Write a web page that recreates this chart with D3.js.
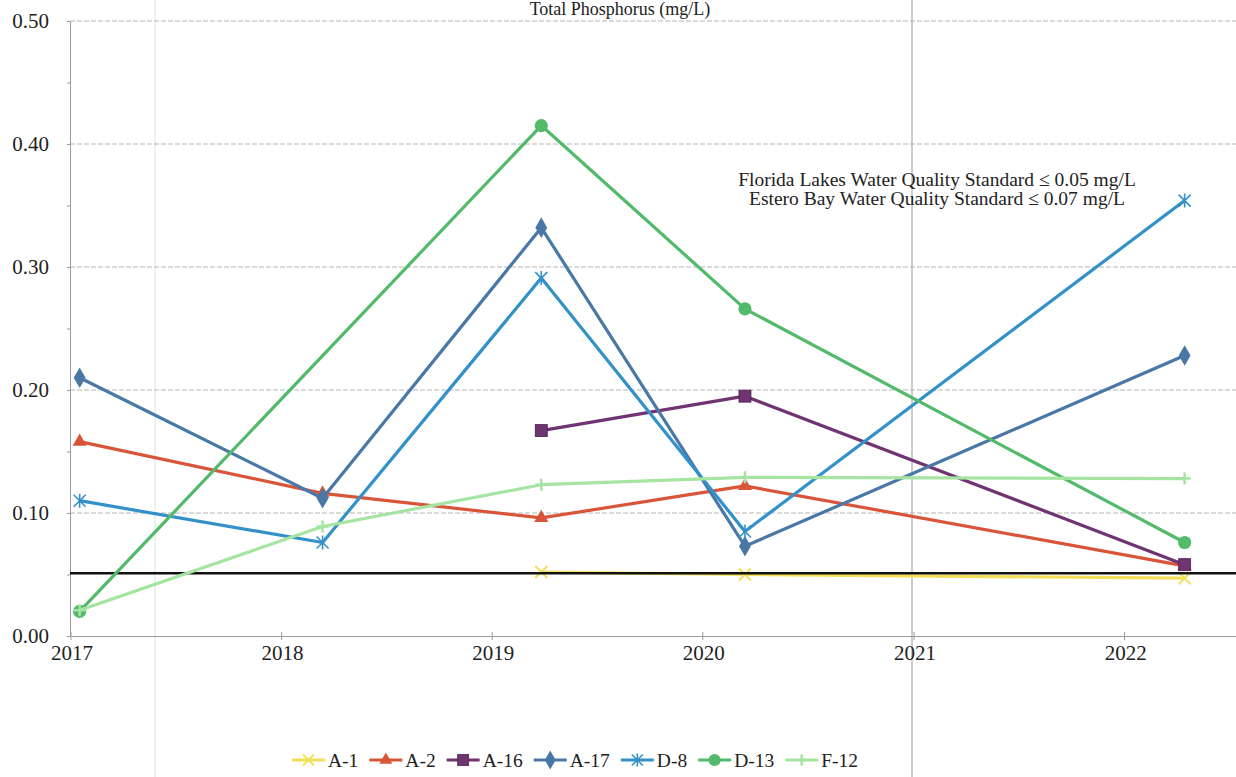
<!DOCTYPE html>
<html>
<head>
<meta charset="utf-8">
<script src="https://cdn.jsdelivr.net/npm/d3@7"></script>
<style>
  html, body { margin: 0; padding: 0; background: #fff; }
  svg { display: block; }
  text { font-family: "Liberation Serif", "Times New Roman", serif; fill: #222; }
</style>
</head>
<body>
<svg id="chart" width="1236" height="777"></svg>
<script>
// ---- data ----
const sampleDates = ["2017-01-16", "2018-03-13", "2019-03-27", "2020-03-14", "2022-04-15"];
const seriesNames = ["A-1", "A-2", "A-16", "A-17", "D-8", "D-13", "F-12"];
const a1Values  = [null, null, 0.052, 0.050, 0.047];
const a2Values  = [0.158, 0.116, 0.096, 0.122, 0.057];
const a16Values = [null, null, 0.167, 0.195, 0.058];
const a17Values = [0.210, 0.112, 0.332, 0.073, 0.228];
const d8Values  = [0.110, 0.076, 0.291, 0.085, 0.354];
const d13Values = [0.020, null, 0.415, 0.266, 0.076];
const f12Values = [0.021, 0.089, 0.123, 0.129, 0.128];
const yTicks = [0.00, 0.10, 0.20, 0.30, 0.40, 0.50];
const xTickYears = [2017, 2018, 2019, 2020, 2021, 2022];
const standardValue = 0.051;
const titleText = "Total Phosphorus (mg/L)";
const noteLines = ["Florida Lakes Water Quality Standard \u2264 0.05 mg/L",
                   "Estero Bay Water Quality Standard \u2264 0.07 mg/L"];

// ---- styles ----
const colors  = ["#f2e05a", "#d9553a", "#6f3472", "#4a78a6", "#3391c9", "#52ba6a", "#a6e4a2"];
const markers = ["x", "triangle", "square", "diamond", "asterisk", "circle", "plus"];
const allValues = [a1Values, a2Values, a16Values, a17Values, d8Values, d13Values, f12Values];

const svg = d3.select("#chart");
const parse = d3.timeParse("%Y-%m-%d");

const x = d3.scaleTime()
  .domain([new Date(2017, 0, 1), new Date(2022, 6, 13)])
  .range([71, 1236]);
const y = d3.scaleLinear().domain([0, 0.5]).range([636, 21]);

// scan artifact vertical lines
svg.append("line").attr("x1", 155).attr("x2", 155).attr("y1", 0).attr("y2", 777)
  .attr("stroke", "#dff0ee").attr("stroke-width", 1.5);
svg.append("line").attr("x1", 912).attr("x2", 912).attr("y1", 0).attr("y2", 777)
  .attr("stroke", "#9a9a9a").attr("stroke-width", 1);

// title
svg.append("text").attr("x", 620).attr("y", 15).attr("text-anchor", "middle")
  .style("font-size", "18px").text(titleText);

// gridlines
svg.append("g").selectAll("line").data(yTicks.filter(d => d > 0)).join("line")
  .attr("x1", 70).attr("x2", 1236)
  .attr("y1", d => y(d)).attr("y2", d => y(d))
  .attr("stroke", "#b5b5b5").attr("stroke-width", 1).attr("stroke-dasharray", "5,2");

// y axis
const yAxis = d3.axisLeft(y).tickValues(d3.range(0, 0.501, 0.05)).tickSize(3).tickFormat(() => "");
const yg = svg.append("g").attr("transform", "translate(70,0)").call(yAxis);
yg.select(".domain").attr("stroke", "#9a9a9a");
yg.selectAll(".tick line").attr("stroke", "#9a9a9a");
svg.append("g").selectAll("text").data(yTicks).join("text")
  .attr("x", 49).attr("y", d => y(d)).attr("dy", "0.35em").attr("text-anchor", "end")
  .style("font-size", "21px").text(d => d3.format(".2f")(d));

// x axis
const xAxis = d3.axisBottom(x).tickValues(xTickYears.map(yr => new Date(yr, 0, 1)))
  .tickSize(0).tickFormat(() => "");
const xg = svg.append("g").attr("transform", "translate(0,636)").call(xAxis);
xg.select(".domain").attr("stroke", "#9a9a9a");
svg.append("g").selectAll("line").data(xTickYears).join("line")
  .attr("x1", d => x(new Date(d, 0, 1))).attr("x2", d => x(new Date(d, 0, 1)))
  .attr("y1", 632).attr("y2", 640).attr("stroke", "#9a9a9a");
svg.append("g").selectAll("text").data(xTickYears).join("text")
  .attr("x", d => x(new Date(d, 0, 1)) + 1).attr("y", 660).attr("text-anchor", "middle")
  .style("font-size", "21px").text(d => d);

// marker drawing
function drawMarker(g, type, color, size) {
  const s = size;
  if (type === "circle") {
    g.append("circle").attr("r", s * 0.55).attr("fill", color);
  } else if (type === "square") {
    g.append("rect").attr("x", -s / 2).attr("y", -s / 2).attr("width", s).attr("height", s)
      .attr("fill", color).attr("stroke", "#4a2050").attr("stroke-width", 0.8);
  } else if (type === "diamond") {
    g.append("path").attr("d", d3.symbol(d3.symbolDiamond, s * s * 0.85)()).attr("fill", color);
  } else if (type === "triangle") {
    g.append("path").attr("d", d3.symbol(d3.symbolTriangle, s * s * 0.6)()).attr("fill", color);
  } else if (type === "x") {
    const h = s * 0.5;
    g.append("path").attr("d", `M${-h},${-h}L${h},${h}M${-h},${h}L${h},${-h}`)
      .attr("stroke", color).attr("stroke-width", 2);
  } else if (type === "asterisk") {
    const h = s * 0.5;
    g.append("path").attr("d", `M${-h},${-h}L${h},${h}M${-h},${h}L${h},${-h}M0,${-h - 1}L0,${h + 1}`)
      .attr("stroke", color).attr("stroke-width", 1.6);
  } else if (type === "plus") {
    const h = s * 0.5;
    g.append("path").attr("d", `M0,${-h}L0,${h}M${-h},0L${h},0`)
      .attr("stroke", color).attr("stroke-width", 2.5);
  }
}

const line = d3.line().x(d => x(d.date)).y(d => y(d.value));

function drawSeries(i) {
  const pts = sampleDates.map((d, k) => ({ date: parse(d), value: allValues[i][k] }))
    .filter(p => p.value !== null);
  const g = svg.append("g");
  g.append("path").datum(pts).attr("d", line).attr("fill", "none")
    .attr("stroke", colors[i]).attr("stroke-width", 3.2).attr("stroke-linejoin", "round");
  pts.forEach(p => {
    const mg = g.append("g").attr("transform", `translate(${x(p.date)},${y(p.value)})`);
    drawMarker(mg, markers[i], colors[i], 12);
  });
}

drawSeries(0);
// standard line
svg.append("line").attr("x1", 70).attr("x2", 1236)
  .attr("y1", y(standardValue)).attr("y2", y(standardValue))
  .attr("stroke", "#111").attr("stroke-width", 2.5);
for (let i = 1; i < seriesNames.length; i++) drawSeries(i);

// note
svg.append("g").selectAll("text").data(noteLines).join("text")
  .attr("x", 937).attr("y", (d, i) => 186 + i * 19).attr("text-anchor", "middle")
  .style("font-size", "19.5px").text(d => d);

// legend
const legend = svg.append("g");
let lx = 292;
const ly = 760;
seriesNames.forEach((name, i) => {
  const g = legend.append("g");
  g.append("line").attr("x1", lx).attr("x2", lx + 33).attr("y1", ly).attr("y2", ly)
    .attr("stroke", colors[i]).attr("stroke-width", 3.2);
  const mg = g.append("g").attr("transform", `translate(${lx + 16.5},${ly})`);
  drawMarker(mg, markers[i], colors[i], 11);
  const t = g.append("text").attr("x", lx + 36).attr("y", ly).attr("dy", "0.35em")
    .style("font-size", "19.5px").text(name);
  lx += 36 + t.node().getComputedTextLength() + 11;
});
</script>
</body>
</html>
